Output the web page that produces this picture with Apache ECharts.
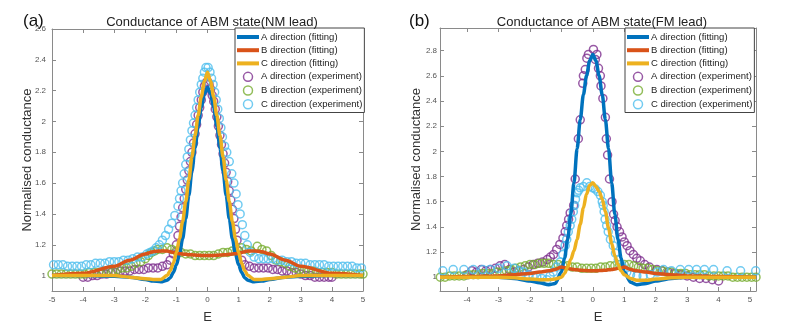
<!DOCTYPE html>
<html>
<head>
<meta charset="utf-8">
<script src="https://cdn.jsdelivr.net/npm/echarts@6/dist/echarts.min.js"></script>
<style>
  html, body { margin: 0; padding: 0; background: #fff; }
  #main { width: 795px; height: 329px; }
</style>
</head>
<body>
<div id="main"></div>
<script>
// ---------------- data: panel (a), NM lead ----------------
var aFitE = [-5, -4, -3, -2.5, -2, -1.75, -1.5, -1.3, -1.2, -1.1, -1.0, -0.9, -0.8, -0.7, -0.6, -0.5, -0.4, -0.3, -0.2, -0.1, 0,
             0.1, 0.2, 0.3, 0.4, 0.5, 0.6, 0.7, 0.8, 0.9, 1.0, 1.1, 1.2, 1.3, 1.5, 1.75, 2, 2.5, 3, 4, 5];
var aFitA = [1.0, 1.0, 0.995, 0.99, 0.975, 0.965, 0.96, 0.97, 0.985, 1.02, 1.07, 1.14, 1.24, 1.37, 1.52, 1.68, 1.83, 1.97, 2.09, 2.18, 2.22,
             2.18, 2.09, 1.97, 1.83, 1.68, 1.52, 1.37, 1.24, 1.14, 1.07, 1.02, 0.985, 0.97, 0.96, 0.965, 0.975, 0.99, 0.995, 1.0, 1.0];
var aFitB = [1.0, 1.015, 1.06, 1.1, 1.14, 1.155, 1.16, 1.16, 1.155, 1.15, 1.145, 1.142, 1.14, 1.138, 1.136, 1.135, 1.133, 1.132, 1.131, 1.13, 1.13,
             1.13, 1.131, 1.132, 1.133, 1.135, 1.136, 1.138, 1.14, 1.142, 1.145, 1.15, 1.155, 1.16, 1.16, 1.155, 1.14, 1.1, 1.06, 1.015, 1.0];
var aFitC = [1.0, 1.0, 1.0, 0.99, 0.98, 0.975, 0.975, 1.0, 1.03, 1.08, 1.15, 1.24, 1.35, 1.48, 1.62, 1.77, 1.91, 2.04, 2.16, 2.26, 2.32,
             2.26, 2.16, 2.04, 1.91, 1.77, 1.62, 1.48, 1.35, 1.24, 1.15, 1.08, 1.03, 1.0, 0.975, 0.975, 0.98, 0.99, 1.0, 1.0, 1.0];

var aExpA = [[-4.0,0.99],[-3.85,0.99],[-3.7,1.0],[-3.55,1.0],[-3.4,1.01],[-3.25,1.01],[-3.1,1.02],[-2.95,1.02],[-2.8,1.03],[-2.65,1.03],
  [-2.5,1.03],[-2.35,1.04],[-2.2,1.04],[-2.05,1.04],[-1.9,1.05],[-1.75,1.05],[-1.6,1.05],[-1.45,1.06],[-1.3,1.07],[-1.2,1.1],[-1.1,1.14],
  [-1.0,1.2],[-0.95,1.26],[-0.9,1.32],[-0.85,1.38],[-0.8,1.44],[-0.75,1.5],[-0.7,1.56],[-0.65,1.62],[-0.6,1.68],[-0.55,1.74],[-0.5,1.8],
  [-0.45,1.86],[-0.4,1.92],[-0.35,1.98],[-0.3,2.04],[-0.25,2.09],[-0.2,2.14],[-0.15,2.19],[-0.1,2.23],[-0.05,2.25],[0,2.26],[0.05,2.24],
  [0.1,2.21],[0.15,2.17],[0.2,2.13],[0.25,2.08],[0.3,2.03],[0.35,1.97],[0.4,1.91],[0.45,1.85],[0.5,1.79],[0.55,1.73],[0.6,1.67],[0.65,1.61],
  [0.7,1.55],[0.75,1.49],[0.8,1.43],[0.85,1.37],[0.9,1.3],[0.95,1.23],[1.0,1.16],[1.1,1.1],[1.2,1.07],[1.35,1.06],[1.5,1.05],[1.65,1.05],
  [1.8,1.05],[1.95,1.05],[2.1,1.04],[2.25,1.04],[2.4,1.03],[2.55,1.03],[2.7,1.02],[2.85,1.02],[3.0,1.01],[3.15,1.0],[3.3,1.0],[3.45,0.99],
  [3.6,0.99],[3.75,0.99],[3.9,0.99],[4.0,0.99]];
var aExpB = [[-5,1.01],[-4.85,1.01],[-4.7,1.01],[-4.55,1.01],[-4.4,1.01],[-4.25,1.01],[-4.1,1.01],[-3.95,1.01],[-3.8,1.02],[-3.65,1.02],
  [-3.5,1.02],[-3.35,1.02],[-3.2,1.03],[-3.05,1.03],[-2.9,1.04],[-2.75,1.05],[-2.6,1.05],[-2.45,1.06],[-2.3,1.08],[-2.15,1.09],[-2.0,1.11],
  [-1.9,1.13],[-1.8,1.15],[-1.7,1.16],[-1.6,1.17],[-1.45,1.17],[-1.3,1.18],[-1.15,1.17],[-1.0,1.16],[-0.85,1.15],[-0.7,1.14],[-0.55,1.14],
  [-0.4,1.13],[-0.25,1.13],[-0.1,1.13],[0.05,1.13],[0.2,1.13],[0.35,1.14],[0.5,1.15],[0.65,1.15],[0.8,1.16],[0.95,1.17],[1.1,1.18],
  [1.25,1.17],[1.4,1.16],[1.6,1.19],[1.75,1.17],[1.9,1.16],[2.05,1.13],[2.2,1.1],[2.35,1.09],[2.5,1.08],[2.65,1.06],[2.8,1.05],[2.95,1.04],
  [3.1,1.03],[3.25,1.03],[3.4,1.03],[3.55,1.02],[3.7,1.02],[3.85,1.02],[4.0,1.02],[4.15,1.01],[4.3,1.01],[4.45,1.01],[4.6,1.01],[4.75,1.01],
  [4.9,1.01],[5.0,1.01]];
var aExpC = [[-4.95,1.07],[-4.8,1.07],[-4.65,1.07],[-4.5,1.06],[-4.35,1.06],[-4.2,1.06],[-4.05,1.06],[-3.9,1.07],[-3.75,1.07],[-3.6,1.08],
  [-3.45,1.08],[-3.3,1.08],[-3.15,1.09],[-3.0,1.09],[-2.85,1.09],[-2.7,1.1],[-2.55,1.1],[-2.4,1.11],[-2.25,1.12],[-2.1,1.12],[-1.95,1.14],
  [-1.85,1.15],[-1.75,1.16],[-1.65,1.18],[-1.55,1.2],[-1.45,1.23],[-1.35,1.26],[-1.25,1.3],[-1.15,1.34],[-1.05,1.39],[-0.95,1.45],[-0.9,1.5],
  [-0.85,1.55],[-0.8,1.6],[-0.75,1.66],[-0.7,1.72],[-0.65,1.77],[-0.6,1.82],[-0.55,1.88],[-0.5,1.94],[-0.45,1.99],[-0.4,2.04],[-0.35,2.09],
  [-0.3,2.14],[-0.25,2.19],[-0.2,2.24],[-0.15,2.28],[-0.1,2.32],[-0.05,2.35],[0.02,2.35],[0.08,2.32],[0.13,2.28],[0.18,2.24],[0.23,2.19],
  [0.28,2.14],[0.33,2.08],[0.38,2.02],[0.43,1.96],[0.48,1.9],[0.55,1.84],[0.62,1.8],[0.7,1.74],[0.78,1.66],[0.85,1.6],[0.92,1.53],[0.98,1.46],
  [1.05,1.4],[1.12,1.33],[1.2,1.26],[1.28,1.2],[1.38,1.15],[1.5,1.12],[1.65,1.11],[1.8,1.11],[1.95,1.11],[2.1,1.11],[2.25,1.1],[2.4,1.1],
  [2.55,1.09],[2.7,1.09],[2.85,1.08],[3.0,1.08],[3.15,1.08],[3.3,1.07],[3.45,1.07],[3.6,1.07],[3.75,1.07],[3.9,1.06],[4.05,1.06],[4.2,1.06],
  [4.35,1.06],[4.5,1.06],[4.65,1.06],[4.8,1.05],[4.95,1.05]];

// ---------------- data: panel (b), FM lead ----------------
var bFitE = [-4.86, -4, -3, -2.5, -2, -1.7, -1.4, -1.2, -1.0, -0.9, -0.8, -0.7, -0.6, -0.5, -0.4, -0.3, -0.2, -0.1, 0,
             0.1, 0.2, 0.3, 0.4, 0.5, 0.6, 0.7, 0.8, 0.9, 1.0, 1.2, 1.4, 1.7, 2, 2.5, 3, 4, 5.19];
var bFitA = [1.0, 1.0, 1.0, 0.99, 0.97, 0.955, 0.94, 0.95, 1.04, 1.15, 1.3, 1.5, 1.75, 2.02, 2.25, 2.45, 2.6, 2.72, 2.77,
             2.72, 2.6, 2.45, 2.25, 2.02, 1.75, 1.5, 1.3, 1.15, 1.04, 0.96, 0.94, 0.95, 0.97, 0.99, 1.0, 1.0, 1.0];
var bFitB = [1.0, 1.005, 1.01, 1.02, 1.03, 1.04, 1.05, 1.06, 1.08, 1.075, 1.07, 1.065, 1.06, 1.058, 1.055, 1.053, 1.052, 1.05, 1.05,
             1.05, 1.052, 1.053, 1.055, 1.058, 1.06, 1.065, 1.07, 1.075, 1.08, 1.06, 1.05, 1.04, 1.03, 1.02, 1.01, 1.005, 1.0];
var bFitC = [1.0, 1.0, 1.0, 0.995, 0.985, 0.98, 0.98, 0.985, 1.0, 1.03, 1.08, 1.14, 1.21, 1.3, 1.42, 1.55, 1.66, 1.73, 1.75,
             1.72, 1.68, 1.62, 1.52, 1.39, 1.27, 1.17, 1.1, 1.05, 1.02, 0.99, 0.975, 0.975, 0.985, 0.995, 1.0, 1.0, 1.0];

var bExpA = [[-4.0,1.02],[-3.85,1.05],[-3.7,1.04],[-3.55,1.06],[-3.4,1.05],[-3.25,1.06],[-3.1,1.07],[-2.95,1.09],[-2.8,1.1],[-2.65,1.06],
  [-2.5,1.04],[-2.35,1.05],[-2.2,1.06],[-2.05,1.08],[-1.9,1.1],[-1.75,1.11],[-1.6,1.12],[-1.45,1.14],[-1.35,1.16],[-1.25,1.18],[-1.15,1.22],
  [-1.05,1.26],[-0.95,1.31],[-0.88,1.36],[-0.83,1.41],[-0.77,1.46],[-0.72,1.51],[-0.61,1.57],[-0.56,1.78],[-0.46,2.1],[-0.4,2.25],
  [-0.32,2.54],[-0.3,2.6],[-0.24,2.65],[-0.19,2.74],[-0.14,2.77],[0.02,2.81],[0.08,2.73],[0.13,2.77],[0.18,2.66],[0.24,2.6],[0.26,2.52],
  [0.32,2.42],[0.4,2.27],[0.43,2.1],[0.47,1.97],[0.53,1.78],[0.61,1.6],[0.66,1.5],[0.71,1.45],[0.77,1.4],[0.85,1.36],[0.93,1.32],[1.0,1.28],
  [1.09,1.25],[1.18,1.21],[1.29,1.18],[1.4,1.15],[1.51,1.13],[1.65,1.1],[1.8,1.08],[2.04,1.06],[2.2,1.05],[2.4,1.04],[2.6,1.03],[2.8,1.02],
  [3.0,1.01],[3.2,1.0],[3.4,0.99],[3.6,0.99],[3.8,0.98],[4.0,0.97]];
var bExpB = [[-4.85,1.0],[-4.7,1.0],[-4.55,1.01],[-4.4,1.01],[-4.25,1.01],[-4.1,1.01],[-3.95,1.02],[-3.8,1.02],[-3.65,1.02],[-3.5,1.03],
  [-3.35,1.03],[-3.2,1.03],[-3.05,1.04],[-2.9,1.04],[-2.75,1.05],[-2.6,1.06],[-2.45,1.07],[-2.3,1.08],[-2.15,1.09],[-2.0,1.1],[-1.85,1.1],
  [-1.7,1.11],[-1.55,1.11],[-1.4,1.11],[-1.25,1.1],[-1.1,1.1],[-0.95,1.09],[-0.8,1.09],[-0.65,1.08],[-0.5,1.08],[-0.35,1.07],[-0.2,1.07],
  [-0.05,1.07],[0.1,1.07],[0.25,1.08],[0.4,1.08],[0.55,1.09],[0.7,1.09],[0.85,1.1],[1.0,1.1],[1.15,1.1],[1.3,1.09],[1.45,1.08],[1.6,1.07],
  [1.75,1.07],[1.9,1.06],[2.05,1.05],[2.2,1.05],[2.35,1.04],[2.5,1.04],[2.65,1.03],[2.8,1.03],[2.95,1.03],[3.1,1.02],[3.25,1.02],[3.4,1.02],
  [3.55,1.02],[3.7,1.01],[3.85,1.01],[4.0,1.01],[4.15,1.01],[4.3,1.01],[4.45,1.0],[4.6,1.0],[4.75,1.0],[4.9,1.0],[5.05,1.0],[5.19,1.0]];
var bExpC = [[-4.77,1.05],[-4.44,1.06],[-4.1,1.06],[-3.8,1.06],[-3.5,1.06],[-3.27,1.06],[-3.0,1.07],[-2.73,1.09],[-2.5,1.07],[-2.35,1.05],
  [-2.2,1.04],[-2.05,1.02],[-1.9,1.01],[-1.78,1.0],[-1.62,0.99],[-1.46,0.98],[-1.36,1.01],[-1.26,1.04],[-1.15,1.08],[-1.04,1.12],[-0.96,1.18],
  [-0.88,1.25],[-0.83,1.3],[-0.78,1.36],[-0.72,1.41],[-0.67,1.46],[-0.62,1.52],[-0.58,1.57],[-0.55,1.62],[-0.5,1.67],[-0.45,1.69],[-0.4,1.71],
  [-0.3,1.72],[-0.19,1.75],[-0.1,1.72],[0.0,1.71],[0.08,1.7],[0.16,1.68],[0.24,1.65],[0.3,1.6],[0.33,1.57],[0.36,1.52],[0.39,1.46],
  [0.44,1.41],[0.49,1.36],[0.56,1.3],[0.65,1.25],[0.72,1.19],[0.81,1.14],[0.9,1.1],[0.98,1.07],[1.08,1.04],[1.2,1.02],[1.4,1.01],[1.6,1.01],
  [1.83,1.02],[2.05,1.04],[2.25,1.06],[2.5,1.05],[2.78,1.06],[3.05,1.06],[3.3,1.06],[3.55,1.06],[3.84,1.06],[4.27,1.05],[4.7,1.05],[5.18,1.05]];

// tick labels
var aTicksY = [1, 1.2, 1.4, 1.6, 1.8, 2, 2.2, 2.4, 2.6];
var bTicksY = [1, 1.2, 1.4, 1.6, 1.8, 2, 2.2, 2.4, 2.6, 2.8];
var bTicksX = [-4, -3, -2, -1, 0, 1, 2, 3, 4, 5];

var names = ['A direction (fitting)', 'B direction (fitting)', 'C direction (fitting)',
             'A direction (experiment)', 'B direction (experiment)', 'C direction (experiment)'];
var colors = ['#0072BD', '#D95319', '#EDB120', '#7E2F8E', '#77AC30', '#4DBEEE'];

var FONT = '"Liberation Sans", Arial, sans-serif';
var AXIS_COLOR = '#8a8a8a';
var LINE_ICON = 'path://M0,0 L22,0 L22,4 L0,4 Z';

function zip(xs, ys) {
  return xs.map(function (x, i) { return [x, ys[i]]; });
}

function xAxisFor(grid, pos, min, max, ticks, withLabel) {
  var ax = {
    type: 'value', gridIndex: grid, position: pos, min: min, max: max,
    splitLine: { show: false },
    axisLine: { show: true, onZero: false, lineStyle: { color: AXIS_COLOR, width: 1 } },
    axisTick: { show: true, inside: true, length: 4, lineStyle: { color: AXIS_COLOR } },
    axisLabel: { show: withLabel, color: '#555', fontSize: 8, fontFamily: FONT, margin: 5 }
  };
  if (ticks) {
    ax.axisTick.customValues = ticks;
    ax.axisLabel.customValues = ticks;
  } else {
    ax.interval = 1;
  }
  if (withLabel) {
    ax.name = 'E';
    ax.nameLocation = 'middle';
    ax.nameGap = 20;
    ax.nameMoveOverlap = false;
    ax.nameTextStyle = { fontSize: 13, color: '#333', fontFamily: FONT };
  }
  return ax;
}

function yAxisFor(grid, pos, min, max, ticks, withLabel, margin, gap) {
  var ax = {
    type: 'value', gridIndex: grid, position: pos, min: min, max: max,
    splitLine: { show: false },
    axisLine: { show: true, onZero: false, lineStyle: { color: AXIS_COLOR, width: 1 } },
    axisTick: { show: true, inside: true, length: 4, customValues: ticks, lineStyle: { color: AXIS_COLOR } },
    axisLabel: { show: withLabel, customValues: ticks, color: '#555', fontSize: 8, fontFamily: FONT, margin: margin }
  };
  if (withLabel) {
    ax.name = 'Normalised conductance';
    ax.nameLocation = 'middle';
    ax.nameGap = gap;
    ax.nameMoveOverlap = false;
    ax.nameTextStyle = { fontSize: 13, color: '#333', fontFamily: FONT };
  }
  return ax;
}

function fitSeries(i, axisIdx, data) {
  return {
    name: names[i], type: 'line', xAxisIndex: axisIdx, yAxisIndex: axisIdx,
    data: data, symbol: 'none', smooth: 0.3, smoothMonotone: 'x',
    lineStyle: { color: colors[i], width: 3.5 }, itemStyle: { color: colors[i] },
    silent: true, animation: false
  };
}

function expSeries(i, axisIdx, data) {
  return {
    name: names[i], type: 'scatter', xAxisIndex: axisIdx, yAxisIndex: axisIdx,
    data: data, symbol: 'circle', symbolSize: 8,
    itemStyle: { color: 'rgba(0,0,0,0)', borderColor: colors[i], borderWidth: 1.5 },
    silent: true, animation: false
  };
}

function legendFor(left, top) {
  var items = names.map(function (n, i) {
    if (i < 3) {
      return { name: n, icon: LINE_ICON, itemStyle: { color: colors[i], borderWidth: 0 } };
    }
    return { name: n, icon: 'circle',
             itemStyle: { color: 'rgba(0,0,0,0)', borderColor: colors[i], borderWidth: 1.5 } };
  });
  return {
    data: items, orient: 'vertical', left: left, top: top,
    itemWidth: 22, itemHeight: 9, itemGap: 3.2,
    padding: [4, 2, 3, 2],
    borderColor: '#444', borderWidth: 1, backgroundColor: '#fff',
    textStyle: { fontSize: 9.5, color: '#222', fontFamily: FONT, padding: [0, 0, 0, -3] },
    selectedMode: false
  };
}

var myChart = echarts.init(document.getElementById('main'));

var option = {
  animation: false,
  backgroundColor: '#fff',
  title: [
    { text: '(a)', left: 18, top: 8, textStyle: { fontSize: 17, fontWeight: 'normal', color: '#111', fontFamily: FONT } },
    { text: 'Conductance of ABM state(NM lead)', left: 207, top: 11, textAlign: 'center',
      textStyle: { fontSize: 13, fontWeight: 'normal', color: '#222', fontFamily: FONT } },
    { text: '(b)', left: 404, top: 8, textStyle: { fontSize: 17, fontWeight: 'normal', color: '#111', fontFamily: FONT } },
    { text: 'Conductance of ABM state(FM lead)', left: 597, top: 11, textAlign: 'center',
      textStyle: { fontSize: 13, fontWeight: 'normal', color: '#222', fontFamily: FONT } }
  ],
  legend: [legendFor(235, 28), legendFor(625, 28)],
  grid: [
    { left: 52, top: 29, width: 311, height: 264 },
    { left: 440, top: 28, width: 316, height: 264 }
  ],
  xAxis: [
    xAxisFor(0, 'bottom', -5, 5, null, true),
    xAxisFor(1, 'bottom', -4.86, 5.19, bTicksX, true),
    xAxisFor(0, 'top', -5, 5, null, false),
    xAxisFor(1, 'top', -4.86, 5.19, bTicksX, false)
  ],
  yAxis: [
    yAxisFor(0, 'left', 0.9, 2.6, aTicksY, true, 6, 18),
    yAxisFor(1, 'left', 0.89, 2.98, bTicksY, true, 3, 17),
    yAxisFor(0, 'right', 0.9, 2.6, aTicksY, false),
    yAxisFor(1, 'right', 0.89, 2.98, bTicksY, false)
  ],
  series: [
    fitSeries(0, 0, zip(aFitE, aFitA)),
    fitSeries(1, 0, zip(aFitE, aFitB)),
    fitSeries(2, 0, zip(aFitE, aFitC)),
    expSeries(3, 0, aExpA),
    expSeries(4, 0, aExpB),
    expSeries(5, 0, aExpC),
    fitSeries(0, 1, zip(bFitE, bFitA)),
    fitSeries(1, 1, zip(bFitE, bFitB)),
    fitSeries(2, 1, zip(bFitE, bFitC)),
    expSeries(3, 1, bExpA),
    expSeries(4, 1, bExpB),
    expSeries(5, 1, bExpC)
  ]
};

myChart.setOption(option);
</script>
</body>
</html>
